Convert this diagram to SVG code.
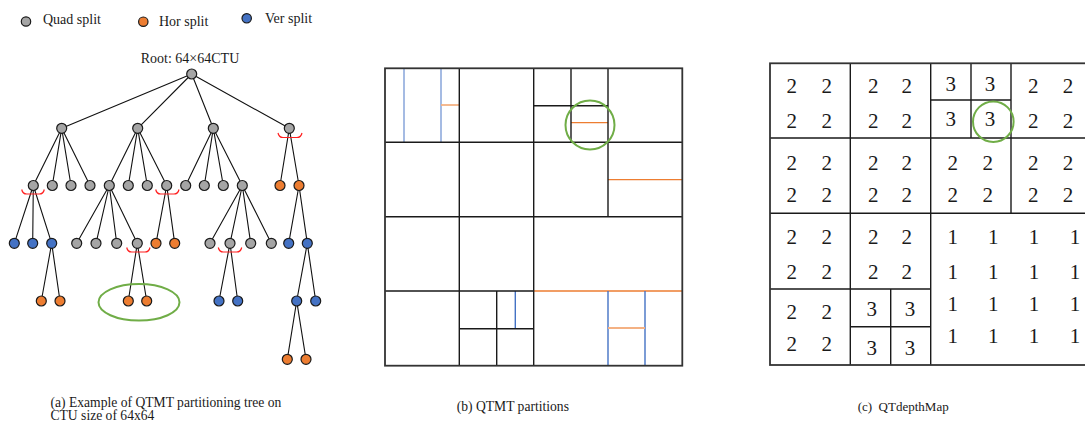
<svg xmlns="http://www.w3.org/2000/svg" width="1085" height="427" viewBox="0 0 1085 427">
<style>
text{font-family:"Liberation Serif","Times New Roman",serif;fill:#1a1a1a}
.lg{font-size:14px}
.cap{font-size:13px}
.capa{font-size:13.6px}
.num{font-size:21px;text-anchor:middle}
.nd{stroke:#1a1a1a;stroke-width:1.2}
.q{fill:#a5a5a5}
.h{fill:#ed7d31}
.v{fill:#4472c4}
.e{stroke:#111;stroke-width:1.1;fill:none}
.br{stroke:#ff2020;stroke-width:1.2;fill:none}
.gr{stroke:#70ad47;stroke-width:2;fill:none}
.bk{stroke:#1a1a1a;stroke-width:1.4;fill:none}
.ob{stroke:#333;stroke-width:1.8;fill:none}
.lb{stroke:#8faadc;stroke-width:1.6}
.db{stroke:#4472c4;stroke-width:1.4}
.lo{stroke:#f4b183;stroke-width:1.8}
.do{stroke:#ed7d31;stroke-width:1.3}
</style>

<!-- Legend -->
<g id="legend">
<circle class="nd q" cx="26" cy="21.5" r="4.7"/>
<text class="lg" x="43" y="24">Quad split</text>
<circle class="nd h" cx="143.3" cy="21.7" r="4.7"/>
<text class="lg" x="159" y="26">Hor split</text>
<circle class="nd v" cx="246.7" cy="18.3" r="4.7"/>
<text class="lg" x="265" y="23">Ver split</text>
</g>

<text id="root-label" class="lg" x="190" y="63" text-anchor="middle">Root: 64×64CTU</text>

<!-- Tree connectors -->
<g id="connectors">
<path class="e" d="M191.7,74L61.7,128.3M191.7,74L137.7,128.3M191.7,74L213.3,128.3M191.7,74L289.3,128.3"/>
<path class="e" d="M61.7,128.3L33.3,185.5M61.7,128.3L52.3,185.5M61.7,128.3L71,185.5M61.7,128.3L90,185.5"/>
<path class="e" d="M137.7,128.3L109.3,185.5M137.7,128.3L128.3,185.5M137.7,128.3L147.3,185.5M137.7,128.3L166.7,185.5"/>
<path class="e" d="M213.3,128.3L185.7,185.5M213.3,128.3L204.3,185.5M213.3,128.3L223.3,185.5M213.3,128.3L242.3,185.5"/>
<path class="e" d="M289.3,128.3L280,185.5M289.3,128.3L299,185.5"/>
<path class="e" d="M33.3,185.5L14.3,243.3M33.3,185.5L32.7,243.3M33.3,185.5L51.7,243.3"/>
<path class="e" d="M109.3,185.5L76.7,243.3M109.3,185.5L96,243.3M109.3,185.5L116.7,243.3M109.3,185.5L137.3,243.3"/>
<path class="e" d="M166.7,185.5L156,243.3M166.7,185.5L174.7,243.3"/>
<path class="e" d="M242.3,185.5L210,243.3M242.3,185.5L230,243.3M242.3,185.5L250.7,243.3M242.3,185.5L271.3,243.3"/>
<path class="e" d="M299,185.5L288.7,243.3M299,185.5L307.3,243.3"/>
<path class="e" d="M51.7,243.3L41.3,301M51.7,243.3L60,301"/>
<path class="e" d="M137.3,243.3L128.3,301M137.3,243.3L146.7,301"/>
<path class="e" d="M230,243.3L219,301M230,243.3L237.7,301"/>
<path class="e" d="M307.3,243.3L296.7,301M307.3,243.3L315.7,301"/>
<path class="e" d="M296.7,301L287.3,359.3M296.7,301L306,359.3"/>
</g>

<!-- Red split brackets -->
<g id="brackets">
<path class="br" d="M278,133 Q279,137.5 283,137.5 L297,137.5 Q301,137.5 302,133"/>
<path class="br" d="M21.7,189.5 Q22.7,194 26.7,194 L39.3,194 Q43.3,194 44.3,189.5"/>
<path class="br" d="M155.7,189.5 Q156.7,194 160.7,194 L174,194 Q178,194 179,189.5"/>
<path class="br" d="M126.7,247.5 Q127.7,252 131.7,252 L145,252 Q149,252 150,247.5"/>
<path class="br" d="M218.3,247.5 Q219.3,252 223.3,252 L236.7,252 Q240.7,252 241.7,247.5"/>
</g>

<!-- Tree nodes -->
<g id="n-root"><circle class="nd q" cx="191.7" cy="74" r="5"/></g>
<g id="n-1a"><circle class="nd q" cx="61.7" cy="128.3" r="5"/></g>
<g id="n-1b"><circle class="nd q" cx="137.7" cy="128.3" r="5"/></g>
<g id="n-1c"><circle class="nd q" cx="213.3" cy="128.3" r="5"/></g>
<g id="n-1d"><circle class="nd q" cx="289.3" cy="128.3" r="5"/></g>

<g id="n-2a1"><circle class="nd q" cx="33.3" cy="185.5" r="5"/></g>
<g id="n-2a2"><circle class="nd q" cx="52.3" cy="185.5" r="5"/></g>
<g id="n-2a3"><circle class="nd q" cx="71" cy="185.5" r="5"/></g>
<g id="n-2a4"><circle class="nd q" cx="90" cy="185.5" r="5"/></g>
<g id="n-2b1"><circle class="nd q" cx="109.3" cy="185.5" r="5"/></g>
<g id="n-2b2"><circle class="nd q" cx="128.3" cy="185.5" r="5"/></g>
<g id="n-2b3"><circle class="nd q" cx="147.3" cy="185.5" r="5"/></g>
<g id="n-2b4"><circle class="nd q" cx="166.7" cy="185.5" r="5"/></g>
<g id="n-2c1"><circle class="nd q" cx="185.7" cy="185.5" r="5"/></g>
<g id="n-2c2"><circle class="nd q" cx="204.3" cy="185.5" r="5"/></g>
<g id="n-2c3"><circle class="nd q" cx="223.3" cy="185.5" r="5"/></g>
<g id="n-2c4"><circle class="nd q" cx="242.3" cy="185.5" r="5"/></g>
<g id="n-2d1"><circle class="nd h" cx="280" cy="185.5" r="5"/></g>
<g id="n-2d2"><circle class="nd h" cx="299" cy="185.5" r="5"/></g>

<g id="n-3a1"><circle class="nd v" cx="14.3" cy="243.3" r="5"/></g>
<g id="n-3a2"><circle class="nd v" cx="32.7" cy="243.3" r="5"/></g>
<g id="n-3a3"><circle class="nd v" cx="51.7" cy="243.3" r="5"/></g>
<g id="n-3b1"><circle class="nd q" cx="76.7" cy="243.3" r="5"/></g>
<g id="n-3b2"><circle class="nd q" cx="96" cy="243.3" r="5"/></g>
<g id="n-3b3"><circle class="nd q" cx="116.7" cy="243.3" r="5"/></g>
<g id="n-3b4"><circle class="nd q" cx="137.3" cy="243.3" r="5"/></g>
<g id="n-3c1"><circle class="nd h" cx="156" cy="243.3" r="5"/></g>
<g id="n-3c2"><circle class="nd h" cx="174.7" cy="243.3" r="5"/></g>
<g id="n-3d1"><circle class="nd q" cx="210" cy="243.3" r="5"/></g>
<g id="n-3d2"><circle class="nd q" cx="230" cy="243.3" r="5"/></g>
<g id="n-3d3"><circle class="nd q" cx="250.7" cy="243.3" r="5"/></g>
<g id="n-3d4"><circle class="nd q" cx="271.3" cy="243.3" r="5"/></g>
<g id="n-3e1"><circle class="nd v" cx="288.7" cy="243.3" r="5"/></g>
<g id="n-3e2"><circle class="nd v" cx="307.3" cy="243.3" r="5"/></g>

<g id="n-4a1"><circle class="nd h" cx="41.3" cy="301" r="5"/></g>
<g id="n-4a2"><circle class="nd h" cx="60" cy="301" r="5"/></g>
<g id="n-4b1"><circle class="nd h" cx="128.3" cy="301" r="5"/></g>
<g id="n-4b2"><circle class="nd h" cx="146.7" cy="301" r="5"/></g>
<g id="n-4c1"><circle class="nd v" cx="219" cy="301" r="5"/></g>
<g id="n-4c2"><circle class="nd v" cx="237.7" cy="301" r="5"/></g>
<g id="n-4d1"><circle class="nd v" cx="296.7" cy="301" r="5"/></g>
<g id="n-4d2"><circle class="nd v" cx="315.7" cy="301" r="5"/></g>

<g id="n-5a1"><circle class="nd h" cx="287.3" cy="359.3" r="5"/></g>
<g id="n-5a2"><circle class="nd h" cx="306" cy="359.3" r="5"/></g>

<ellipse id="highlight-tree" class="gr" cx="139" cy="302.3" rx="40.5" ry="18.3"/>

<text class="capa" x="50.5" y="406.5">(a) Example of QTMT partitioning tree on</text>
<text class="capa" x="50.5" y="420">CTU size of 64x64</text>

<!-- (b) QTMT partitions -->
<g id="partitions">
<line class="lb" x1="404" y1="68.3" x2="404" y2="142.3"/>
<line class="lb" x1="441" y1="68.3" x2="441" y2="142.3"/>
<line class="lo" x1="441" y1="105" x2="459.3" y2="105"/>
<line class="do" x1="571" y1="122.7" x2="608" y2="122.7"/>
<line class="do" x1="608" y1="179.7" x2="682.3" y2="179.7"/>
<line class="do" x1="533.7" y1="291" x2="682.3" y2="291"/>
<line class="db" x1="515.3" y1="291" x2="515.3" y2="328.7"/>
<line class="db" x1="608" y1="291" x2="608" y2="365.7"/>
<line class="db" x1="645" y1="291" x2="645" y2="365.7"/>
<line class="lo" x1="608" y1="328" x2="645" y2="328"/>
<path class="bk" d="M459.3,68.3V365.7M533.7,68.3V365.7M608,68.3V216.7M571,68.3V142.3M385,142.3H682.3M385,216.7H682.3M385,291H533.7M533.7,105.7H608M496.7,291V365.7M459.3,328.7H533.7"/>
<rect class="ob" x="385" y="68.3" width="297.3" height="297.4"/>
<circle class="gr" cx="590" cy="125" r="24.5"/>
</g>
<text class="capa" x="456.7" y="410.5">(b) QTMT partitions</text>

<!-- (c) QTdepthMap -->
<g id="depthmap">
<path class="bk" d="M850.3,63.3V365M930.7,63.3V365M1011,63.3V213.3M770,138H1091M770,213.3H1091M770,289H930.7M971,63.3V138M930.7,100H1011M890.7,289V365M850.3,326.7H930.7"/>
<rect class="ob" x="770" y="63.3" width="321" height="301.7"/>
<circle class="gr" cx="993.3" cy="121.7" r="20.3"/>
<g class="num-grid">
<text class="num" x="791.7" y="93">2</text><text class="num" x="826.7" y="93">2</text>
<text class="num" x="873.3" y="93">2</text><text class="num" x="906.7" y="93">2</text>
<text class="num" x="950.7" y="91">3</text><text class="num" x="990" y="91">3</text>
<text class="num" x="1033.3" y="93">2</text><text class="num" x="1068" y="93">2</text>

<text class="num" x="791.7" y="128">2</text><text class="num" x="826.7" y="128">2</text>
<text class="num" x="873.3" y="128">2</text><text class="num" x="906.7" y="128">2</text>
<text class="num" x="950.7" y="126">3</text><text class="num" x="990" y="126">3</text>
<text class="num" x="1033.3" y="128">2</text><text class="num" x="1068" y="128">2</text>

<text class="num" x="791.7" y="169.5">2</text><text class="num" x="826.7" y="169.5">2</text>
<text class="num" x="873.3" y="169.5">2</text><text class="num" x="906.7" y="169.5">2</text>
<text class="num" x="952.7" y="169.5">2</text><text class="num" x="987.7" y="169.5">2</text>
<text class="num" x="1033.3" y="169.5">2</text><text class="num" x="1068" y="169.5">2</text>

<text class="num" x="791.7" y="202">2</text><text class="num" x="826.7" y="202">2</text>
<text class="num" x="873.3" y="202">2</text><text class="num" x="906.7" y="202">2</text>
<text class="num" x="952.7" y="202">2</text><text class="num" x="987.7" y="202">2</text>
<text class="num" x="1033.3" y="202">2</text><text class="num" x="1068" y="202">2</text>

<text class="num" x="791.7" y="244">2</text><text class="num" x="826.7" y="244">2</text>
<text class="num" x="873.3" y="244">2</text><text class="num" x="906.7" y="244">2</text>
<text class="num" x="791.7" y="279">2</text><text class="num" x="826.7" y="279">2</text>
<text class="num" x="873.3" y="279">2</text><text class="num" x="906.7" y="279">2</text>
<text class="num" x="791.7" y="319">2</text><text class="num" x="826.7" y="319">2</text>
<text class="num" x="791.7" y="351">2</text><text class="num" x="826.7" y="351">2</text>
<text class="num" x="871.7" y="315.5">3</text><text class="num" x="910" y="315.5">3</text>
<text class="num" x="871.7" y="354.5">3</text><text class="num" x="910" y="354.5">3</text>

<text class="num" x="952.7" y="244">1</text><text class="num" x="993.3" y="244">1</text>
<text class="num" x="1034" y="244">1</text><text class="num" x="1075" y="244">1</text>
<text class="num" x="952.7" y="279">1</text><text class="num" x="993.3" y="279">1</text>
<text class="num" x="1034" y="279">1</text><text class="num" x="1075" y="279">1</text>
<text class="num" x="952.7" y="311">1</text><text class="num" x="993.3" y="311">1</text>
<text class="num" x="1034" y="311">1</text><text class="num" x="1075" y="311">1</text>
<text class="num" x="952.7" y="343">1</text><text class="num" x="993.3" y="343">1</text>
<text class="num" x="1034" y="343">1</text><text class="num" x="1075" y="343">1</text>
</g>
</g>
<text class="cap" x="857.7" y="410.5" xml:space="preserve">(c)  QTdepthMap</text>
</svg>
